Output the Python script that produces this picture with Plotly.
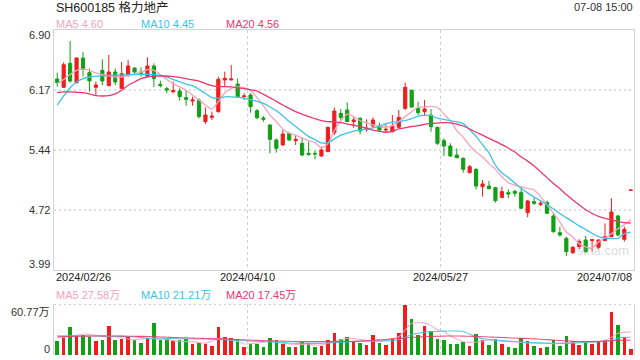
import plotly.graph_objects as go

# ---------------- data ----------------
title_text = "SH600185 格力地产"
time_text = "07-08 15:00"
date_labels = ["2024/02/26", "2024/04/10", "2024/05/27", "2024/07/08"]
price_tick_labels = ["6.90", "6.17", "5.44", "4.72", "3.99"]
price_tick_values = [6.90, 6.17, 5.44, 4.72, 3.99]
vol_tick_labels = ["60.77万", "0"]
vol_tick_values = [60.77, 0]
price_legend = ["MA5 4.60", "MA10 4.45", "MA20 4.56"]
vol_legend = ["MA5 27.58万", "MA10 21.21万", "MA20 17.45万"]

opens = [6.306, 6.205, 6.496, 6.261, 6.560, 6.383, 6.205, 6.411, 6.225, 6.391,
         6.193, 6.354, 6.439, 6.391, 6.342, 6.464, 6.241, 6.189, 6.152, 6.160,
         6.080, 6.039, 6.051, 5.789, 5.841, 5.910, 6.294, 6.294, 6.245, 6.092,
         6.112, 5.922, 5.833, 5.748, 5.566, 5.506, 5.647, 5.558, 5.526, 5.405,
         5.405, 5.372, 5.425, 5.655, 5.890, 5.930, 5.789, 5.829, 5.696, 5.736,
         5.736, 5.687, 5.667, 5.720, 5.950, 6.170, 5.950, 5.910, 5.869, 5.720,
         5.558, 5.494, 5.384, 5.344, 5.170, 5.211, 5.000, 5.008, 4.988, 4.871,
         4.928, 4.944, 4.932, 4.685, 4.819, 4.786, 4.810, 4.645, 4.443, 4.374,
         4.200, 4.273, 4.354, 4.346, 4.265, 4.346, 4.394, 4.645, 4.362, 4.955]
highs = [6.383, 6.508, 6.767, 6.569, 6.633, 6.435, 6.274, 6.544, 6.597, 6.435,
         6.512, 6.536, 6.447, 6.447, 6.569, 6.496, 6.286, 6.213, 6.274, 6.193,
         6.173, 6.092, 6.071, 5.962, 5.910, 6.334, 6.395, 6.476, 6.314, 6.132,
         6.132, 5.942, 5.857, 5.756, 5.586, 5.687, 5.655, 5.627, 5.599, 5.546,
         5.437, 5.485, 5.728, 5.962, 5.942, 6.023, 5.841, 5.841, 5.817, 5.841,
         5.776, 5.756, 5.869, 5.930, 6.261, 6.175, 6.031, 6.051, 5.942, 5.728,
         5.586, 5.526, 5.465, 5.356, 5.263, 5.223, 5.081, 5.069, 5.000, 5.000,
         4.968, 4.960, 4.992, 4.839, 4.871, 4.839, 4.831, 4.677, 4.515, 4.394,
         4.281, 4.362, 4.402, 4.362, 4.362, 4.556, 4.859, 4.657, 4.515, 4.960]
lows = [6.213, 6.200, 6.261, 6.253, 6.334, 6.152, 6.112, 6.233, 6.220, 6.233,
        6.185, 6.334, 6.354, 6.334, 6.334, 6.209, 6.205, 6.132, 6.132, 6.043,
        5.983, 5.983, 5.829, 5.760, 5.809, 5.898, 6.221, 6.290, 6.092, 6.051,
        5.898, 5.817, 5.789, 5.405, 5.413, 5.498, 5.558, 5.506, 5.372, 5.380,
        5.332, 5.364, 5.421, 5.627, 5.789, 5.785, 5.716, 5.635, 5.667, 5.716,
        5.667, 5.655, 5.659, 5.712, 5.930, 5.962, 5.869, 5.869, 5.667, 5.506,
        5.372, 5.364, 5.344, 5.170, 5.162, 4.968, 4.879, 4.968, 4.806, 4.859,
        4.859, 4.879, 4.730, 4.629, 4.778, 4.766, 4.669, 4.443, 4.394, 4.160,
        4.184, 4.241, 4.200, 4.212, 4.241, 4.346, 4.394, 4.402, 4.334, 4.955]
closes = [6.261, 6.480, 6.282, 6.560, 6.427, 6.282, 6.233, 6.282, 6.391, 6.270,
          6.370, 6.464, 6.391, 6.375, 6.464, 6.310, 6.225, 6.173, 6.164, 6.092,
          6.059, 6.051, 5.849, 5.869, 5.857, 6.302, 6.314, 6.306, 6.092, 6.100,
          5.970, 5.837, 5.817, 5.574, 5.465, 5.639, 5.566, 5.574, 5.384, 5.388,
          5.397, 5.445, 5.720, 5.918, 5.841, 5.789, 5.809, 5.675, 5.708, 5.809,
          5.687, 5.696, 5.736, 5.841, 6.205, 5.965, 5.898, 5.942, 5.728, 5.526,
          5.494, 5.372, 5.352, 5.211, 5.243, 5.008, 5.033, 4.976, 4.831, 4.940,
          4.911, 4.920, 4.738, 4.827, 4.798, 4.798, 4.677, 4.455, 4.414, 4.212,
          4.265, 4.338, 4.212, 4.358, 4.354, 4.394, 4.693, 4.414, 4.483, 4.960]

ma5 = [6.25, 6.30, 6.36, 6.41, 6.425, 6.41, 6.38, 6.36, 6.345, 6.33,
       6.33, 6.35, 6.37, 6.39, 6.42, 6.41, 6.36, 6.30, 6.25, 6.21,
       6.17, 6.11, 6.05, 5.99, 5.94, 6.03, 6.14, 6.19, 6.21, 6.20,
       6.17, 6.08, 5.98, 5.87, 5.79, 5.70, 5.65, 5.625, 5.59, 5.56,
       5.535, 5.47, 5.52, 5.68, 5.80, 5.88, 5.85, 5.80, 5.775, 5.75,
       5.73, 5.72, 5.74, 5.79, 5.85, 5.91, 5.965, 5.965, 5.975, 5.96,
       5.88, 5.80, 5.68, 5.60, 5.50, 5.42, 5.36, 5.28, 5.21, 5.12,
       5.05, 5.02, 5.00, 4.98, 4.96, 4.88, 4.78, 4.68, 4.57, 4.45,
       4.39, 4.31, 4.27, 4.255, 4.33, 4.38, 4.43, 4.49, 4.54, 4.60]
ma10 = [5.99, 6.10, 6.20, 6.27, 6.31, 6.33, 6.34, 6.345, 6.35, 6.352,
        6.355, 6.357, 6.36, 6.362, 6.362, 6.36, 6.35, 6.33, 6.30, 6.27,
        6.245, 6.225, 6.18, 6.13, 6.08, 6.075, 6.09, 6.09, 6.085, 6.07,
        6.055, 6.035, 6.01, 5.97, 5.92, 5.86, 5.79, 5.73, 5.67, 5.61,
        5.57, 5.53, 5.53, 5.58, 5.625, 5.65, 5.675, 5.687, 5.70, 5.712,
        5.735, 5.765, 5.78, 5.789, 5.80, 5.825, 5.855, 5.865, 5.865, 5.83,
        5.815, 5.80, 5.785, 5.765, 5.69, 5.61, 5.51, 5.41, 5.26, 5.17,
        5.11, 5.045, 4.98, 4.925, 4.875, 4.83, 4.78, 4.73, 4.675, 4.625,
        4.576, 4.525, 4.48, 4.435, 4.395, 4.378, 4.372, 4.374, 4.43, 4.45]
ma20 = [6.14, 6.15, 6.15, 6.145, 6.14, 6.125, 6.105, 6.10, 6.105, 6.125,
        6.17, 6.23, 6.27, 6.31, 6.33, 6.34, 6.342, 6.342, 6.335, 6.326,
        6.31, 6.295, 6.28, 6.25, 6.225, 6.215, 6.213, 6.21, 6.20, 6.19,
        6.175, 6.16, 6.12, 6.08, 6.035, 5.99, 5.95, 5.91, 5.88, 5.85,
        5.825, 5.80, 5.79, 5.785, 5.776, 5.76, 5.745, 5.728, 5.71, 5.685,
        5.67, 5.66, 5.67, 5.70, 5.715, 5.73, 5.74, 5.755, 5.767, 5.772,
        5.776, 5.775, 5.76, 5.736, 5.70, 5.66, 5.625, 5.585, 5.55, 5.51,
        5.47, 5.42, 5.36, 5.31, 5.25, 5.18, 5.11, 5.04, 4.975, 4.905,
        4.84, 4.78, 4.72, 4.675, 4.64, 4.615, 4.597, 4.58, 4.565, 4.56]

volumes = [17.1, 21.8, 33.8, 23.0, 23.8, 21.8, 17.1, 17.9, 34.9, 18.3,
           19.1, 21.8, 18.3, 14.7, 20.6, 38.5, 17.9, 19.5, 16.3, 18.3,
           18.7, 13.1, 14.7, 13.5, 10.3, 33.8, 21.4, 19.9, 19.5, 9.9,
           13.5, 13.5, 9.1, 20.2, 17.9, 13.5, 9.9, 9.9, 15.9, 13.9,
           9.9, 10.7, 17.9, 26.6, 19.1, 21.4, 16.7, 14.7, 11.9, 23.8,
           14.7, 11.9, 20.6, 26.6, 59.6, 42.9, 23.8, 34.9, 28.6, 19.1,
           17.9, 13.1, 13.1, 15.9, 10.7, 25.0, 17.9, 11.9, 19.1, 13.1,
           9.5, 8.3, 20.2, 16.7, 10.7, 8.3, 9.5, 17.9, 10.7, 22.6,
           16.7, 11.9, 13.9, 13.1, 16.7, 17.9, 51.2, 35.7, 21.0, 7.1]
vma5 = [20.6, 21.3, 22.0, 23.5, 25.0, 24.5, 23.6, 22.5, 22.0, 21.8,
        20.5, 19.0, 17.9, 19.0, 20.5, 20.0, 19.3, 18.2, 17.1, 16.3,
        15.9, 15.9, 14.9, 13.9, 16.5, 19.9, 19.0, 17.5, 16.0, 13.1,
        13.5, 14.0, 15.5, 16.7, 15.5, 13.9, 13.1, 12.5, 12.4, 12.2,
        12.0, 11.9, 14.0, 16.0, 18.0, 19.9, 19.5, 18.5, 17.5, 17.1,
        16.0, 18.0, 19.5, 21.8, 30.0, 37.7, 38.5, 38.3, 35.0, 30.0,
        27.8, 23.0, 19.0, 15.9, 15.0, 15.5, 16.5, 17.9, 17.5, 16.5,
        15.9, 15.5, 15.0, 14.5, 14.0, 13.9, 13.9, 13.5, 13.9, 14.5,
        15.0, 15.5, 15.9, 16.3, 16.7, 17.5, 21.0, 25.8, 27.0, 27.6]
vma10 = [23.0, 23.0, 22.8, 22.8, 22.7, 22.6, 22.6, 22.5, 22.4, 22.3,
         22.2, 22.0, 21.6, 21.0, 19.8, 19.1, 19.3, 19.5, 19.5, 19.3,
         19.1, 19.0, 19.1, 19.0, 18.8, 18.5, 18.2, 17.9, 17.5, 17.0,
         16.5, 16.2, 15.9, 15.5, 15.1, 14.7, 14.3, 13.9, 13.9, 13.9,
         13.9, 13.9, 14.3, 14.7, 15.1, 15.5, 15.9, 16.2, 16.4, 16.6,
         16.7, 16.8, 17.0, 18.2, 21.0, 24.5, 26.0, 27.2, 27.8, 28.2,
         28.5, 28.6, 28.6, 28.0, 25.0, 21.5, 19.5, 18.5, 17.8, 17.1,
         16.5, 16.0, 15.5, 15.0, 14.7, 14.4, 14.2, 14.0, 13.9, 13.9,
         14.2, 14.6, 15.0, 15.4, 15.7, 15.9, 18.0, 20.0, 21.0, 21.2]
vma20 = [21.8, 22.0, 22.2, 22.3, 22.4, 22.5, 22.6, 22.6, 22.6, 22.6,
         22.5, 22.4, 22.3, 22.2, 22.1, 21.8, 21.5, 21.2, 20.9, 20.6,
         20.4, 20.1, 19.9, 19.7, 19.5, 19.3, 19.0, 18.7, 18.4, 18.1,
         17.8, 17.5, 17.1, 16.9, 16.7, 16.5, 16.3, 16.0, 15.9, 15.9,
         15.9, 15.9, 15.9, 15.9, 16.0, 16.1, 16.2, 16.6, 17.0, 17.5,
         18.0, 18.5, 19.0, 19.6, 20.2, 20.8, 21.4, 21.8, 22.1, 22.3,
         22.5, 22.6, 22.6, 22.5, 22.3, 22.0, 21.8, 21.5, 21.1, 20.8,
         20.5, 20.2, 19.9, 19.6, 19.2, 18.8, 18.3, 17.8, 17.2, 16.8,
         16.4, 16.1, 15.9, 15.9, 16.0, 16.5, 17.0, 17.4, 17.5, 17.5]

# ---------------- styling ----------------
RED = "#f01d1d"
GREEN = "#12a015"
C_MA5 = "#f6a3c0"
C_MA10 = "#3cc3e6"
C_MA20 = "#e8386e"
FONT = "Liberation Sans, Arial, Noto Sans CJK SC, sans-serif"
W, H = 640, 360

n = len(opens)
xs = list(range(n))
bar_colors = [RED if c >= o else GREEN for o, c in zip(opens, closes)]

fig = go.Figure()

fig.add_trace(go.Candlestick(
    x=xs, open=opens, high=highs, low=lows, close=closes,
    increasing=dict(line=dict(color=RED, width=1), fillcolor=RED),
    decreasing=dict(line=dict(color=GREEN, width=1), fillcolor=GREEN),
    whiskerwidth=0, xaxis="x", yaxis="y", showlegend=False, hoverinfo="skip",
))
for vals, col in [(ma5, C_MA5), (ma10, C_MA10), (ma20, C_MA20)]:
    fig.add_trace(go.Scatter(
        x=xs, y=vals, mode="lines", line=dict(color=col, width=1.3, shape="spline", smoothing=0.6),
        xaxis="x", yaxis="y", showlegend=False, hoverinfo="skip"))

fig.add_trace(go.Bar(
    x=xs, y=volumes, marker=dict(color=bar_colors, line=dict(width=0)), width=0.55,
    xaxis="x2", yaxis="y2", showlegend=False, hoverinfo="skip"))
for vals, col in [(vma5, C_MA5), (vma10, C_MA10), (vma20, C_MA20)]:
    fig.add_trace(go.Scatter(
        x=xs, y=vals, mode="lines", line=dict(color=col, width=1.1, shape="spline", smoothing=0.6),
        opacity=0.85, xaxis="x2", yaxis="y2", showlegend=False, hoverinfo="skip"))

x_dom = [54 / W, 634 / W]
xr = [-0.5, n - 0.5]
third = (xr[1] - xr[0]) / 3
vgrid = [xr[0] + third, xr[0] + 2 * third]

fig.update_layout(
    width=W, height=H, margin=dict(l=0, r=0, t=0, b=0),
    paper_bgcolor="white", plot_bgcolor="white",
    font=dict(family=FONT, size=11, color="#333"),
    showlegend=False, bargap=0, hovermode=False,
    xaxis=dict(domain=x_dom, range=xr, anchor="y", showticklabels=False, ticks="",
               tickvals=vgrid, showgrid=True, gridcolor="#cfcfcf", griddash="3px,3px", gridwidth=1,
               showline=True, mirror=True, linecolor="#d4d4d4", linewidth=1,
               zeroline=False, rangeslider=dict(visible=False), fixedrange=True),
    yaxis=dict(domain=[(H - 270) / H, (H - 30) / H], range=[3.99, 6.90], anchor="x",
               tickvals=price_tick_values[1:-1], showticklabels=False, ticks="",
               showgrid=True, gridcolor="#dedede", griddash="2px,3px", gridwidth=2,
               showline=True, mirror=True, linecolor="#d4d4d4", linewidth=1, zeroline=False),
    xaxis2=dict(domain=x_dom, range=xr, anchor="y2", showticklabels=False, ticks="",
                tickvals=vgrid, showgrid=True, gridcolor="#cfcfcf", griddash="3px,3px", gridwidth=1,
                showline=False, zeroline=False),
    yaxis2=dict(domain=[(H - 355) / H, (H - 304) / H], range=[0, 60.77], anchor="x2",
                showticklabels=False, ticks="", showgrid=False,
                showline=True, mirror=True, linecolor="#d4d4d4", linewidth=1, zeroline=False),
)

# dotted top line of the volume panel
fig.add_shape(type="line", xref="x2 domain", yref="y2", x0=0, x1=1, y0=60.77, y1=60.77,
              line=dict(color="#cfcfcf", width=2, dash="2px,3px"))

ann = []
# title & time
ann.append(dict(text=title_text, xref="paper", yref="paper", x=54 / W, y=1 - 7 / H,
                xanchor="left", yanchor="middle", showarrow=False,
                font=dict(size=12.5, color="#222", family=FONT)))
ann.append(dict(text=time_text, xref="paper", yref="paper", x=635 / W, y=1 - 7 / H,
                xanchor="right", yanchor="middle", showarrow=False,
                font=dict(size=11, color="#333", family=FONT)))
# legends
leg_x = [54, 139, 224]
for txt, col, lx in zip(price_legend, [C_MA5, C_MA10, C_MA20], leg_x):
    ann.append(dict(text=txt, xref="paper", yref="paper", x=lx / W, y=1 - 24 / H,
                    xanchor="left", yanchor="middle", showarrow=False,
                    font=dict(size=11, color=col, family=FONT)))
for txt, col, lx in zip(vol_legend, [C_MA5, C_MA10, C_MA20], leg_x):
    ann.append(dict(text=txt, xref="paper", yref="paper", x=lx / W, y=1 - 295 / H,
                    xanchor="left", yanchor="middle", showarrow=False,
                    font=dict(size=11, color=col, family=FONT)))
# price tick labels
shifts = {0: -5, len(price_tick_values) - 1: 6}
for i, (lab, v) in enumerate(zip(price_tick_labels, price_tick_values)):
    ann.append(dict(text=lab, xref="paper", yref="y", x=52 / W, y=v, yshift=shifts.get(i, 0),
                    xanchor="right", yanchor="middle", showarrow=False,
                    font=dict(size=11, color="#333", family=FONT)))
# volume tick labels
for lab, v, ys in zip(vol_tick_labels, vol_tick_values, [-8, 6]):
    ann.append(dict(text=lab, xref="paper", yref="y2", x=52 / W, y=v, yshift=ys,
                    xanchor="right", yanchor="middle", showarrow=False,
                    font=dict(size=11, color="#333", family=FONT)))
# date labels
date_pos = [xr[0], vgrid[0], vgrid[1], xr[1]]
anchors = ["left", "center", "center", "right"]
for lab, xp, a in zip(date_labels, date_pos, anchors):
    ann.append(dict(text=lab, xref="x", yref="paper", x=xp, y=1 - 277 / H,
                    xanchor=a, yanchor="middle", showarrow=False,
                    font=dict(size=11, color="#222", family=FONT)))
# watermark
ann.append(dict(text="sina.com", xref="paper", yref="paper", x=603 / W, y=1 - 250 / H,
                xanchor="center", yanchor="middle", showarrow=False,
                font=dict(size=13, color="rgba(170,170,170,0.45)", family=FONT)))

fig.update_layout(annotations=ann)
fig.write_html("out.html", config={"displayModeBar": False},
               post_script="document.body.style.margin='0';document.body.style.padding='0';")
